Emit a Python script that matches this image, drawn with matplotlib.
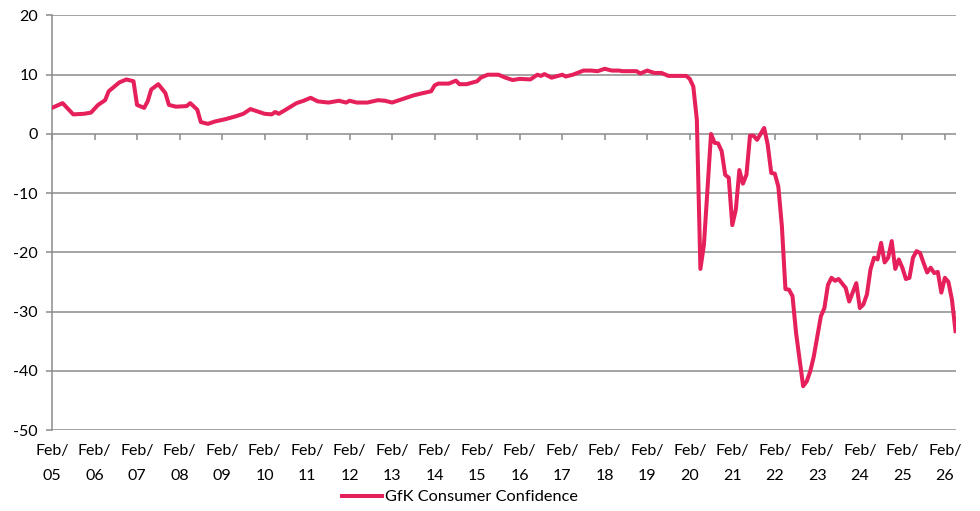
import matplotlib
matplotlib.use('Agg')
import matplotlib.pyplot as plt

# months since Feb 2005 and GfK values
months = [0, 3, 6, 9, 11, 13, 15, 16, 19, 21, 23, 24, 26, 27, 28, 30, 32, 33, 35, 38,
          39, 41, 42, 44, 46, 49, 52, 54, 56, 58, 60, 62, 63, 64, 66, 69, 71, 73, 75, 78,
          81, 83, 84, 86, 89, 92, 94, 96, 98, 102, 104, 107, 108, 109, 112, 114, 115, 117, 120, 121,
          123, 126, 128, 130, 132, 135, 137, 138, 139, 141, 144, 145, 147, 150, 152, 154, 156, 158, 160, 161,
          165, 166, 168, 170, 172, 174, 179, 180, 181, 182, 183, 184, 186, 187, 188, 189, 190, 191, 192, 193,
          194, 195, 196, 197, 198, 199, 201, 202, 203, 204, 205, 206, 207, 208, 209, 210, 212, 213, 214, 215,
          217, 218, 219, 220, 221, 222, 224, 225, 227, 228, 229, 230, 231, 232, 233, 234, 235, 236, 237, 238,
          239, 240, 241, 242, 243, 244, 245, 246, 247, 248, 249, 250, 251, 252, 253, 254, 255]
gfk = [4.4, 5.2, 3.3, 3.4, 3.6, 4.9, 5.7, 7.2, 8.7, 9.2, 8.9, 4.9, 4.4, 5.5, 7.5, 8.4, 6.9, 4.9, 4.6, 4.7,
       5.2, 4.1, 2.0, 1.7, 2.1, 2.5, 3.0, 3.4, 4.2, 3.8, 3.4, 3.3, 3.7, 3.4, 4.1, 5.2, 5.6, 6.1, 5.5, 5.3,
       5.6, 5.3, 5.6, 5.3, 5.3, 5.7, 5.6, 5.3, 5.7, 6.5, 6.8, 7.2, 8.2, 8.5, 8.5, 9.0, 8.4, 8.4, 8.9, 9.5,
       10.0, 10.0, 9.5, 9.1, 9.3, 9.2, 10.0, 9.8, 10.1, 9.5, 10.0, 9.7, 10.0, 10.7, 10.7, 10.6, 11.0, 10.7, 10.7, 10.6,
       10.6, 10.2, 10.7, 10.3, 10.3, 9.8, 9.8, 9.3, 8.0, 2.4, -22.8, -18.7, 0.0, -1.5, -1.6, -2.9, -6.9, -7.4, -15.4, -12.8,
       -6.1, -8.4, -6.9, -0.3, -0.3, -1.0, 1.0, -1.8, -6.6, -6.7, -8.9, -15.6, -26.2, -26.3, -27.4, -33.6, -42.6, -41.8, -40.1, -37.6,
       -30.8, -29.4, -25.5, -24.3, -24.8, -24.5, -26.0, -28.3, -25.2, -29.4, -28.8, -27.1, -22.9, -20.9, -21.2, -18.4, -21.7, -20.9, -18.1, -22.8,
       -21.2, -22.6, -24.5, -24.3, -20.9, -19.8, -20.1, -21.8, -23.4, -22.6, -23.5, -23.3, -26.8, -24.3, -25.0, -28.0, -33.3]

years = ['05', '06', '07', '08', '09', '10', '11', '12', '13', '14', '15', '16', '17', '18',
         '19', '20', '21', '22', '23', '24', '25', '26']
tick_pos = [12 * i for i in range(len(years))]
tick_lab = ['Feb/\n' + y for y in years]

plt.rcParams['font.family'] = ['Lato', 'DejaVu Sans']
plt.rcParams['axes.unicode_minus'] = False
grey = '#8c8c8c'
red = '#e5205a'

fig = plt.figure(figsize=(9.8, 5.11), dpi=100)
ax = fig.add_axes([52 / 980, 1 - 430 / 511, (955.5 - 52) / 980, (430 - 15.5) / 511])

ax.plot(months, gfk, color=red, lw=2.9, solid_joinstyle='round', zorder=3,
        label='GfK Consumer Confidence')

ax.set_xlim(0, 255)
ax.set_ylim(-50, 20)
ax.set_yticks(range(-50, 21, 10))
ax.yaxis.grid(True, color=grey, lw=1.1)
ax.set_axisbelow(True)
for s in ['top', 'right', 'bottom']:
    ax.spines[s].set_visible(False)
ax.spines['left'].set_color(grey)
ax.spines['left'].set_linewidth(1.1)

ax.set_xticks(tick_pos)
ax.set_xticklabels(tick_lab, linespacing=2.05)
ax.tick_params(axis='x', length=0, pad=10, labelsize=11.5)
ax.tick_params(axis='y', direction='out', length=4, color=grey, width=1.1, pad=6, labelsize=11.5)

# tick marks along the zero line
sec = ax.secondary_xaxis(50 / 70)
sec.set_xticks(tick_pos)
sec.xaxis.set_ticks_position('bottom')
sec.tick_params(direction='out', length=4, color=grey, width=1.1,
                labelbottom=False, labeltop=False)
for s in sec.spines.values():
    s.set_visible(False)

fig.legend(loc='center', bbox_to_anchor=(460 / 980, 1 - 497 / 511), frameon=False,
           fontsize=11.8, handlelength=2.4, handletextpad=0.2)

fig.savefig('out.png', dpi=100)
